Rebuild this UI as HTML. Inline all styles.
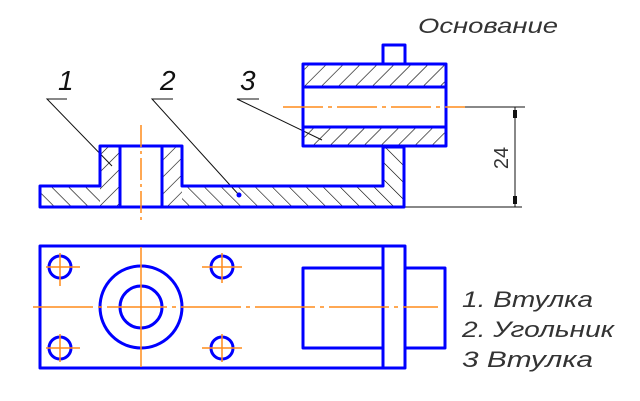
<!DOCTYPE html>
<html><head><meta charset="utf-8"><style>html,body{margin:0;padding:0;background:#fff}svg{display:block}</style></head><body>
<svg width="640" height="401" viewBox="0 0 640 401" xmlns="http://www.w3.org/2000/svg">
<defs>
<pattern id="hr" width="12" height="12" patternUnits="userSpaceOnUse" patternTransform="rotate(45)"><line x1="0" y1="0" x2="0" y2="12" stroke="#000" stroke-width="1.2"/></pattern>
<pattern id="hl" width="12" height="12" patternUnits="userSpaceOnUse" patternTransform="rotate(-45)"><line x1="0" y1="0" x2="0" y2="12" stroke="#000" stroke-width="1.2"/></pattern>
</defs>
<g font-family="Liberation Sans, sans-serif" font-style="italic" fill="#333">
<text x="418" y="33" font-size="21" textLength="140" lengthAdjust="spacingAndGlyphs">Основание</text>
<text x="462" y="307" font-size="22" textLength="131" lengthAdjust="spacingAndGlyphs">1. Втулка</text>
<text x="462" y="337" font-size="22" textLength="152" lengthAdjust="spacingAndGlyphs">2. Угольник</text>
<text x="462" y="367" font-size="22" textLength="131" lengthAdjust="spacingAndGlyphs">3 Втулка</text>
<text x="58" y="90" font-size="28" fill="#111">1</text>
<text x="160" y="90" font-size="28" fill="#111">2</text>
<text x="240" y="90" font-size="28" fill="#111">3</text>
<text transform="translate(508,158) rotate(-90)" font-size="20" text-anchor="middle" font-style="normal">24</text>
</g>
<path d="M40 186 H100 V207 H40Z M182 186 H383 V147 H404 V207 H182Z" fill="url(#hl)"/>
<rect x="100" y="146" width="20" height="61" fill="url(#hr)"/>
<rect x="162" y="146" width="20" height="61" fill="url(#hr)"/>
<rect x="303" y="64" width="143" height="23" fill="url(#hr)"/>
<rect x="303" y="127" width="143" height="19" fill="url(#hr)"/>
<g stroke="#111" stroke-width="1" fill="none">
<path d="M67 99 H47 L112 166"/>
<path d="M173 99 H152 L239 195"/>
<path d="M259 99 H237 L322 140"/>
<path d="M446 107 H525 M404 207 H522 M515 107 V207"/>
</g>
<path d="M513 110 h4 v8 h-4z M513 196 h4 v8 h-4z" fill="#111"/>
<circle cx="239" cy="195" r="2.5" fill="#00f"/>
<g stroke="#0000ff" stroke-width="3" fill="none" stroke-linejoin="round">
<path d="M40 186 H100 V146 H182 V186 H383 V147 H404 V207 H40Z"/>
<path d="M120 146 V207 M162 146 V207"/>
<rect x="303" y="64" width="143" height="82"/>
<path d="M303 87 H446 M303 127 H446"/>
<rect x="383" y="45" width="22" height="19"/>
<rect x="40" y="246" width="365" height="122"/>
<path d="M383 246 V368"/>
<rect x="405" y="268" width="40" height="80"/>
<path d="M383 268 H303 V348 H383"/>
<circle cx="141" cy="307" r="41"/>
<circle cx="141" cy="307" r="21"/>
<circle cx="60" cy="267" r="11"/>
<circle cx="222" cy="267" r="11"/>
<circle cx="60" cy="348" r="11"/>
<circle cx="222" cy="348" r="11"/>
</g>
<g stroke="#ff8c1a" stroke-width="1.5" fill="none">
<path d="M141 125 V220" stroke-dasharray="22 4 3 4"/>
<path d="M283 107 H465" stroke-dasharray="40 5 4 5"/>
<path d="M33 307 H438" stroke-dasharray="60 5 4 5"/>
<path d="M141 247 V367"/>
<path d="M46 267 H80 M60 253 V286 M202 267 H242 M222 253 V283 M46 348 H80 M60 334 V362 M202 348 H242 M222 334 V362"/>
</g>
</svg>
</body></html>
